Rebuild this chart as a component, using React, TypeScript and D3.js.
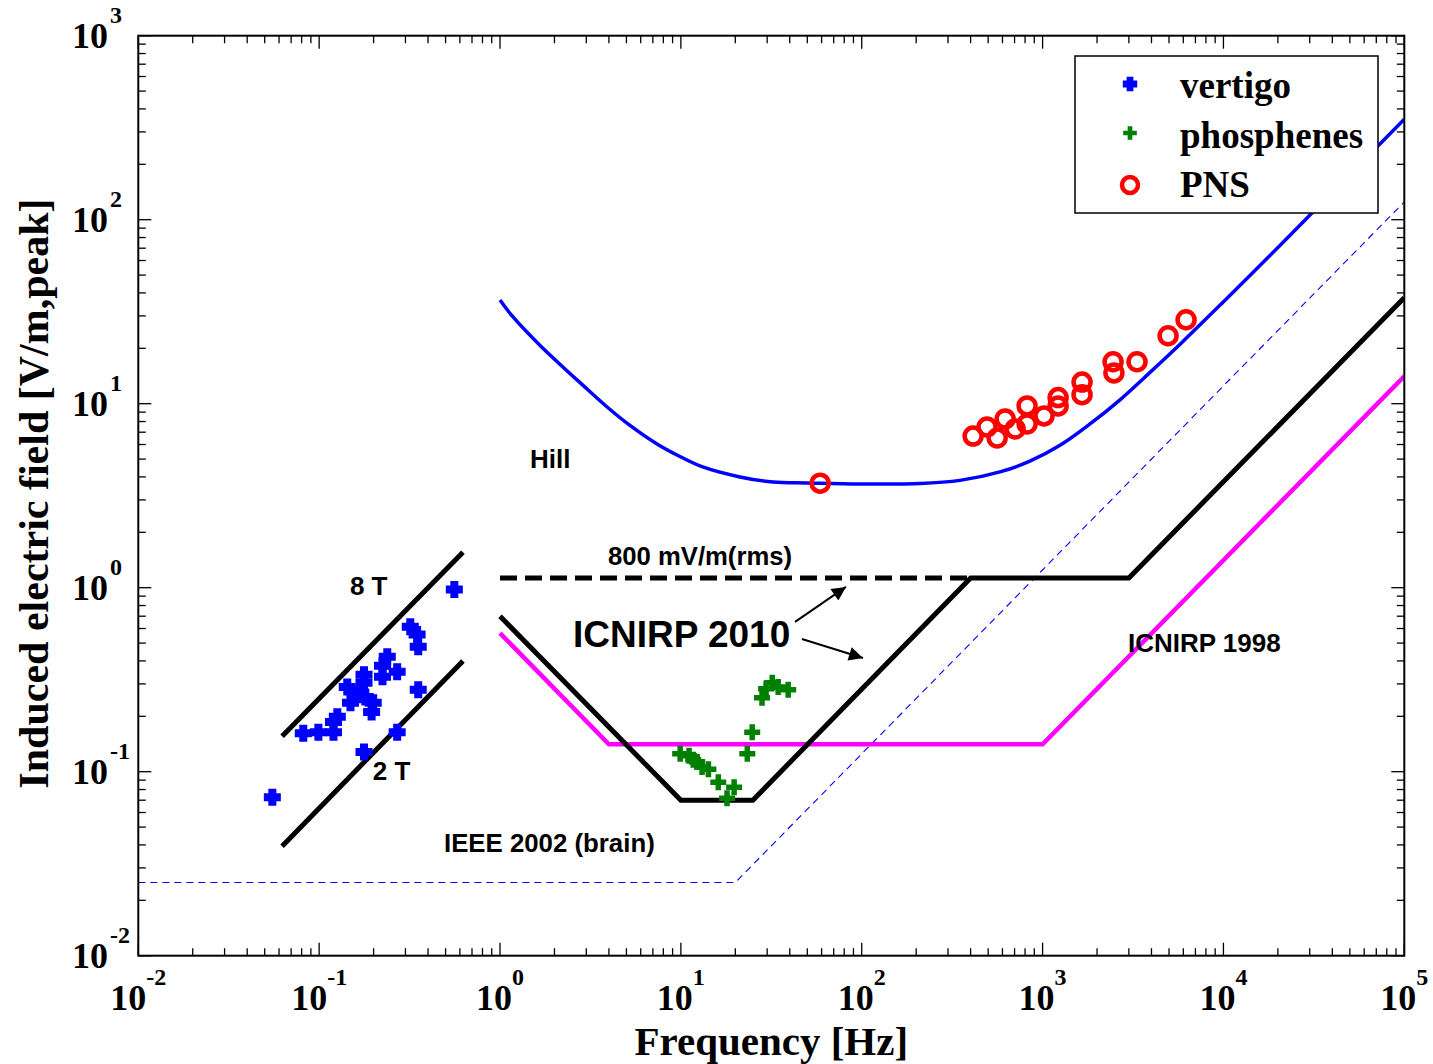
import React from "react";
import * as d3 from "d3";

// ---------- data ----------
const hillFreq = [1, 1.18, 1.66, 2.95, 3.91, 5.23, 7.38, 9.52, 13.2, 21.2, 32.3, 49.8, 97.8, 210, 349, 581, 851, 1248, 1829, 2679, 3926, 5974, 9950, 17400, 30100, 100000];
const hillE = [36.6, 29.6, 20.8, 12.3, 9.6, 7.62, 6.04, 5.26, 4.53, 4.0, 3.75, 3.71, 3.66, 3.68, 3.83, 4.26, 4.87, 5.94, 7.76, 10.5, 14.8, 21.8, 35.6, 61.5, 106, 352];

const icnirp2010Freq = [1, 10, 25, 400, 3000, 100000];
const icnirp2010E = [0.7, 0.07, 0.07, 1.13, 1.13, 37.7];

const icnirp2010DashFreq = [1, 400];
const icnirp2010DashE = [1.13, 1.13];

const icnirp1998Freq = [1, 4, 1000, 100000];
const icnirp1998E = [0.566, 0.141, 0.141, 14.1];

const ieee2002Freq = [0.01, 20, 100000];
const ieee2002E = [0.025, 0.025, 125];

const line8TFreq = [0.0624, 0.624];
const line8TE = [0.156, 1.56];
const line2TFreq = [0.0624, 0.624];
const line2TE = [0.0394, 0.4];

const vertigoFreq = [0.559, 0.319, 0.348, 0.353, 0.238, 0.224, 0.27, 0.224, 0.177, 0.177, 0.143, 0.353, 0.163, 0.18, 0.149, 0.199, 0.195, 0.126, 0.12, 0.12, 0.099, 0.0817, 0.27, 0.177, 0.0551];
const vertigoE = [0.977, 0.614, 0.556, 0.478, 0.422, 0.377, 0.349, 0.328, 0.336, 0.304, 0.289, 0.279, 0.262, 0.255, 0.237, 0.237, 0.211, 0.199, 0.186, 0.164, 0.164, 0.162, 0.164, 0.128, 0.0727];

const phosFreq = [9.91, 11.1, 11.7, 12.3, 13.1, 14.2, 16.1, 19.7, 18.0, 23.3, 24.8, 28.1, 29.6, 32.0, 34.5, 39.2];
const phosE = [0.125, 0.122, 0.116, 0.113, 0.106, 0.103, 0.0877, 0.0824, 0.0718, 0.125, 0.164, 0.252, 0.282, 0.304, 0.289, 0.279];

const pnsFreq = [58.9, 413, 493, 561, 621, 705, 821, 821, 1019, 1219, 1219, 1653, 1653, 2453, 2480, 3328, 4942, 6213];
const pnsE = [3.7, 6.67, 7.47, 6.51, 8.26, 7.29, 9.73, 7.76, 8.58, 10.8, 9.73, 13.1, 11.2, 16.9, 14.7, 16.9, 23.4, 28.6];

const xTickExps = [-2, -1, 0, 1, 2, 3, 4, 5];
const yTickExps = [-2, -1, 0, 1, 2, 3];

const legendLabels = ["vertigo", "phosphenes", "PNS"];

// annotation anchors in data coordinates (freq, E)
const annotations = [
  { text: "Hill", f: 1.466, e: 4.48, size: 26 },
  { text: "800 mV/m(rms)", f: 3.95, e: 1.33, size: 25.7 },
  { text: "ICNIRP 2010", f: 2.53, e: 0.476, size: 37 },
  { text: "8 T", f: 0.148, e: 0.912, size: 26 },
  { text: "2 T", f: 0.198, e: 0.0901, size: 26 },
  { text: "IEEE 2002 (brain)", f: 0.49, e: 0.0366, size: 25.8 },
  { text: "ICNIRP 1998", f: 2966, e: 0.448, size: 26 },
];
const arrowStarts = [[42.8, 0.652], [46.7, 0.526]];
const arrowEnds = [[81.8, 1.01], [101.6, 0.415]];

// ---------- layout ----------
const W = 1433, H = 1064;
const L = 138.3, R = 1404.3, T = 35.7, B = 955.7;

const SERIF = "'Liberation Serif', 'Times New Roman', Times, serif";
const SANS = "'Liberation Sans', Arial, Helvetica, sans-serif";

export default function App() {
  const x = d3.scaleLog().domain([1e-2, 1e5]).range([L, R]);
  const y = d3.scaleLog().domain([1e-2, 1e3]).range([B, T]);

  const mkLine = (fs: number[], es: number[], curve: any = d3.curveLinear) =>
    d3.line<number>().curve(curve).x((_, i) => x(fs[i])).y((_, i) => y(es[i]))(fs.map((_, i) => i)) || "";

  const xMinor: number[] = [];
  for (let d = -2; d < 5; d++) for (let k = 2; k <= 9; k++) xMinor.push(k * Math.pow(10, d));
  const yMinor: number[] = [];
  for (let d = -2; d < 3; d++) for (let k = 2; k <= 9; k++) yMinor.push(k * Math.pow(10, d));

  const majLen = 13, minLen = 7.5;

  const vertigoPath = "M-8.5,0H8.5M0,-8.5V8.5";
  const phosPath = "M-8,0H8M0,-8V8";

  const legendX = 1130;
  const legendYs = [84, 133, 185];

  return (
    <svg width={W} height={H} style={{ position: "absolute", left: 0, top: 0, background: "#fff" }}>
      <defs>
        <clipPath id="plotclip">
          <rect x={L} y={T} width={R - L} height={B - T} />
        </clipPath>
        <marker id="arrowhead" viewBox="0 0 10 10" refX="10" refY="5" markerWidth="8" markerHeight="7" markerUnits="strokeWidth" orient="auto">
          <path d="M0,0 L10,5 L0,10 z" fill="#000" />
        </marker>
      </defs>
      <rect x={0} y={0} width={W} height={H} fill="#fff" />

      {/* ticks */}
      <g stroke="#000" strokeWidth={1.3}>
        {xTickExps.map((p) => {
          const px = x(Math.pow(10, p));
          return (
            <g key={"xt" + p}>
              <line x1={px} x2={px} y1={B} y2={B - majLen} />
              <line x1={px} x2={px} y1={T} y2={T + majLen} />
            </g>
          );
        })}
        {xMinor.map((v, i) => {
          const px = x(v);
          return (
            <g key={"xm" + i}>
              <line x1={px} x2={px} y1={B} y2={B - minLen} />
              <line x1={px} x2={px} y1={T} y2={T + minLen} />
            </g>
          );
        })}
        {yTickExps.map((p) => {
          const py = y(Math.pow(10, p));
          return (
            <g key={"yt" + p}>
              <line x1={L} x2={L + majLen} y1={py} y2={py} />
              <line x1={R} x2={R - majLen} y1={py} y2={py} />
            </g>
          );
        })}
        {yMinor.map((v, i) => {
          const py = y(v);
          return (
            <g key={"ym" + i}>
              <line x1={L} x2={L + minLen} y1={py} y2={py} />
              <line x1={R} x2={R - minLen} y1={py} y2={py} />
            </g>
          );
        })}
      </g>

      {/* lines */}
      <g clipPath="url(#plotclip)" fill="none">
        <path d={mkLine(ieee2002Freq, ieee2002E)} stroke="#0000ff" strokeWidth={1.1} strokeDasharray="7,5" />
        <path d={mkLine(icnirp1998Freq, icnirp1998E)} stroke="#ff00ff" strokeWidth={4.5} />
        <path d={mkLine(icnirp2010DashFreq, icnirp2010DashE)} stroke="#000" strokeWidth={5} strokeDasharray="17,8" />
        <path d={mkLine(icnirp2010Freq, icnirp2010E)} stroke="#000" strokeWidth={5} strokeLinejoin="miter" />
        <path d={mkLine(line8TFreq, line8TE)} stroke="#000" strokeWidth={5} />
        <path d={mkLine(line2TFreq, line2TE)} stroke="#000" strokeWidth={5} />
        <path d={mkLine(hillFreq, hillE, d3.curveCatmullRom.alpha(0.5))} stroke="#0000ff" strokeWidth={3.5} />
      </g>

      {/* markers */}
      <g>
        {vertigoFreq.map((f, i) => (
          <path key={"v" + i} d={vertigoPath} transform={`translate(${x(f)},${y(vertigoE[i])})`} stroke="#0000ff" strokeWidth={8} fill="none" />
        ))}
        {phosFreq.map((f, i) => (
          <path key={"p" + i} d={phosPath} transform={`translate(${x(f)},${y(phosE[i])})`} stroke="#008000" strokeWidth={5.5} fill="none" />
        ))}
        {pnsFreq.map((f, i) => (
          <circle key={"n" + i} cx={x(f)} cy={y(pnsE[i])} r={8.5} stroke="#ff0000" strokeWidth={4.5} fill="none" />
        ))}
      </g>

      {/* annotations */}
      <g fontFamily={SANS} fontWeight="bold" fill="#000">
        {annotations.map((a, i) => (
          <text key={"a" + i} x={x(a.f)} y={y(a.e)} fontSize={a.size}>{a.text}</text>
        ))}
      </g>
      <g stroke="#000" strokeWidth={2}>
        {arrowStarts.map((s, i) => (
          <line key={"ar" + i} x1={x(s[0])} y1={y(s[1])} x2={x(arrowEnds[i][0])} y2={y(arrowEnds[i][1])} markerEnd="url(#arrowhead)" />
        ))}
      </g>

      {/* axes frame */}
      <rect x={L} y={T} width={R - L} height={B - T} fill="none" stroke="#000" strokeWidth={2} />

      {/* tick labels */}
      <g fontFamily={SERIF} fontWeight="bold" fill="#000">
        {xTickExps.map((p) => (
          <text key={"xl" + p} x={x(Math.pow(10, p))} y={1010} textAnchor="middle" fontSize={36}>
            10<tspan fontSize={24} dy={-25}>{p}</tspan>
          </text>
        ))}
        {yTickExps.map((p) => {
          const py = y(Math.pow(10, p));
          return (
            <g key={"yl" + p}>
              <text x={108} y={py + 12} textAnchor="end" fontSize={36}>10</text>
              <text x={110} y={py - 13} textAnchor="start" fontSize={24}>{p}</text>
            </g>
          );
        })}
      </g>

      {/* axis titles */}
      <text x={(L + R) / 2} y={1055} textAnchor="middle" fontFamily={SERIF} fontWeight="bold" fontSize={41} fill="#000">
        Frequency [Hz]
      </text>
      <text transform={`translate(48,${(200 + 787) / 2}) rotate(-90)`} textAnchor="middle" fontFamily={SERIF} fontWeight="bold" fontSize={42} fill="#000">
        Induced electric field [V/m,peak]
      </text>

      {/* legend */}
      <rect x={1075} y={56} width={303} height={157} fill="#fff" stroke="#000" strokeWidth={1.5} />
      <path d={vertigoPath} transform={`translate(${legendX},${legendYs[0]}) scale(0.85)`} stroke="#0000ff" strokeWidth={8} fill="none" />
      <path d={phosPath} transform={`translate(${legendX},${legendYs[1]}) scale(0.85)`} stroke="#008000" strokeWidth={5.5} fill="none" />
      <circle cx={legendX} cy={legendYs[2]} r={8} stroke="#ff0000" strokeWidth={4.5} fill="none" />
      <g fontFamily={SERIF} fontWeight="bold" fontSize={37} fill="#000">
        {legendLabels.map((t, i) => (
          <text key={"lg" + i} x={1180} y={[98, 148, 197][i]}>{t}</text>
        ))}
      </g>
    </svg>
  );
}
